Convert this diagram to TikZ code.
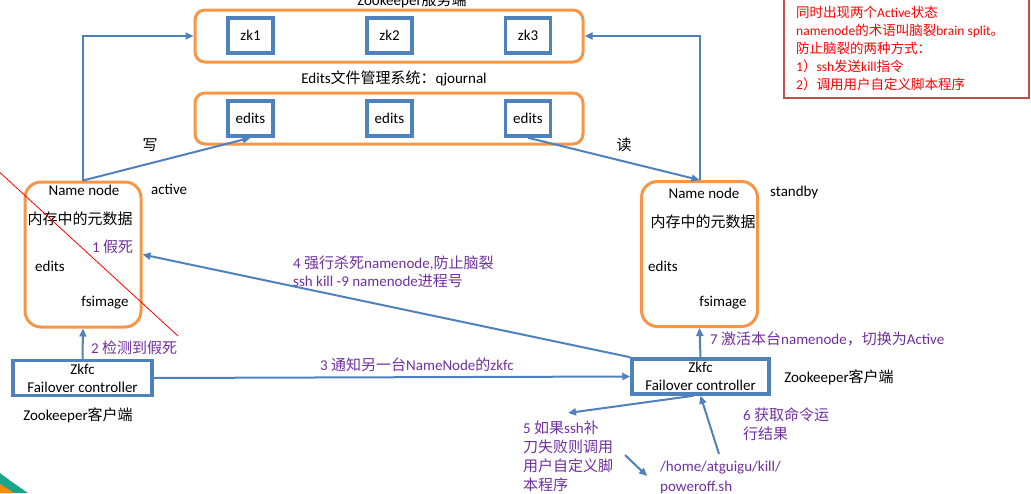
\documentclass[tikz,border=0pt]{standalone}
\usepackage{fontspec}
\setmainfont{Carlito}
\newfontfamily\cjkfont{Noto Sans CJK SC}
\newcommand{\zh}[1]{{\cjkfont #1}}
\usetikzlibrary{arrows.meta}
\definecolor{lineblue}{HTML}{4F81BD}
\definecolor{boxorange}{HTML}{F79646}
\definecolor{tagpurple}{HTML}{7030A0}
\definecolor{notered}{HTML}{FF0000}
\definecolor{noteborder}{HTML}{C0504D}
\definecolor{decoteal}{HTML}{1AA58C}

\begin{document}
\begin{tikzpicture}[x=1pt, y=-1pt,
  every node/.style={font=\fontsize{15}{18}\selectfont, inner sep=0pt},
  group/.style={rectangle, draw=boxorange, line width=3pt, rounded corners=10pt, minimum width=388pt, minimum height=52pt},
  nnbox/.style={rectangle, draw=boxorange, line width=3pt, rounded corners=16pt, minimum width=116pt, minimum height=145pt},
  cell/.style={rectangle, draw=lineblue, line width=3.5pt, minimum width=45pt, minimum height=35pt},
  zkfc/.style={rectangle, draw=lineblue, line width=3.5pt, minimum width=139pt, minimum height=35pt, align=center},
  tag/.style={text=tagpurple, anchor=west, align=left},
  notebox/.style={rectangle, draw=noteborder, line width=2.5pt, minimum width=245pt, minimum height=108pt},
  arrow/.style={-{Triangle[length=8pt,width=7pt]}, draw=lineblue, line width=2pt}
]
\useasboundingbox (0,0) rectangle (1031,493);

% corner decoration
\fill[decoteal] (0,473) .. controls (12,482) .. (28,493) -- (0,493) -- cycle;
\fill[orange!90!yellow] (0,484) -- (14,493) -- (0,493) -- cycle;

% zookeeper servers
\node (zktitle) at (412,0) {Zookeeper\zh{服务端}};
\node[group] (zkgrp) at (389,36) {};
\node[cell] (zk1) at (250.5,35.5) {zk1};
\node[cell] (zk2) at (389.5,35.5) {zk2};
\node[cell] (zk3) at (528,35.5) {zk3};

% qjournal
\node (edtitle) at (394,78) {Edits\zh{文件管理系统：}qjournal};
\node[group, minimum height=51pt] (edgrp) at (389,118.5) {};
\node[cell] (ed1) at (250.5,118.5) {edits};
\node[cell] (ed2) at (389.5,118.5) {edits};
\node[cell] (ed3) at (528,118.5) {edits};

% namenodes
\node[nnbox] (nnA) at (83,254.5) {};
\node (nnAname) at (84,190) {Name node};
\node[anchor=west] (nnAstate) at (151,189) {active};
\node (nnAmem) at (80,219) {\zh{内存中的元数据}};
\node (nnAedits) at (50,266) {edits};
\node (nnAfs) at (105,303) {fsimage};

\node[nnbox] (nnS) at (699.5,254) {};
\node (nnSname) at (704,193) {Name node};
\node[anchor=west] (nnSstate) at (770,192) {standby};
\node (nnSmem) at (703,222) {\zh{内存中的元数据}};
\node (nnSedits) at (663,266) {edits};
\node (nnSfs) at (723,303) {fsimage};

% zkfc
\node[zkfc] (zkA) at (82.5,378) {Zkfc\\Failover controller};
\node (zkAclient) at (78,415) {Zookeeper\zh{客户端}};
\node[zkfc, minimum width=137pt] (zkS) at (700.5,376.5) {Zkfc\\Failover controller};
\node (zkSclient) at (839,377) {Zookeeper\zh{客户端}};

% note
\node[notebox] (note) at (906.5,44) {};
\node[text=notered, anchor=west, align=left, font=\fontsize{13.5}{18}\selectfont] (notetext) at (796,48.5)
  {\zh{同时出现两个}Active\zh{状态}\\namenode\zh{的术语叫脑裂}brain split\zh{。}\\\zh{防止脑裂的两种方式：}\\1\zh{）}ssh\zh{发送}kill\zh{指令}\\2\zh{）调用用户自定义脚本程序}};

\draw[red, line width=0.8pt] (-5,168) -- (178,336);

% connectors
\draw[arrow] (nnA.north) |- (zkgrp.west);
\draw[arrow] (nnA.north) -- (ed1.south);
\draw[arrow] (nnS.north) |- (zkgrp.east);
\draw[arrow] (ed3.south) -- (nnS.north);
\draw[arrow] (zkA.north) -- (nnA.south);
\draw[arrow] (zkA.east) -- (zkS.west);
\draw[arrow] (zkS.north west) -- (nnA.east);
\draw[arrow] (zkS.north) -- (nnS.south);
\coordinate (c5) at (568,413);
\coordinate (c5a) at (625,455);
\coordinate (c5b) at (647,476);
\coordinate (c6) at (719,454);
\draw[arrow] ([xshift=-7pt]zkS.south) -- (c5);
\draw[arrow] (c5a) -- (c5b);
\draw[arrow] (c6) -- (zkS.south);

% labels
\node (write) at (150,145) {\zh{写}};
\node (read) at (624,145) {\zh{读}};
\node[tag] (tag1) at (92,247) {1 \zh{假死}};
\node[tag] (tag2) at (91,348) {2 \zh{检测到假死}};
\node[tag] (tag3) at (320,365) {3 \zh{通知另一台}NameNode\zh{的}zkfc};
\node[tag] (tag4) at (293,272) {4 \zh{强行杀死}namenode,\zh{防止脑裂}\\ssh kill -9 namenode\zh{进程号}};
\node[tag, font=\fontsize{15}{19}\selectfont] (tag5) at (523,456.5) {5 \zh{如果}ssh\zh{补}\\\zh{刀失败则调用}\\\zh{用户自定义脚}\\\zh{本程序}};
\node[tag, font=\fontsize{15}{20}\selectfont] (script) at (660,477) {/home/atguigu/kill/\\poweroff.sh};
\node[tag, font=\fontsize{15}{19}\selectfont] (tag6) at (743,424.5) {6 \zh{获取命令运}\\\zh{行结果}};
\node[tag] (tag7) at (710,339) {7 \zh{激活本台}namenode\zh{，切换为}Active};

\end{tikzpicture}
\end{document}
